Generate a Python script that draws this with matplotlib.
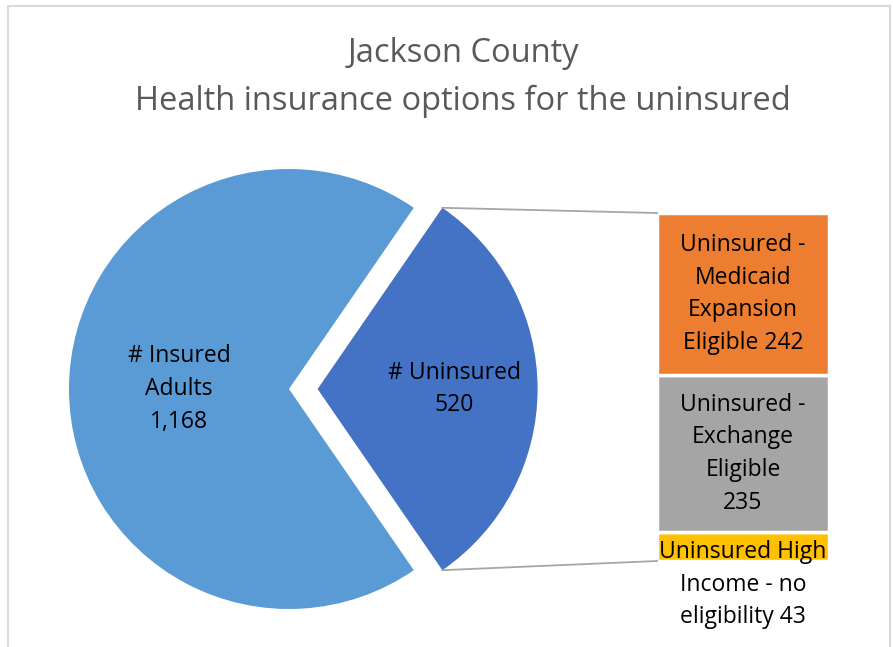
import matplotlib.pyplot as plt
import matplotlib.patches as mpatches
import numpy as np

plt.rcParams['font.family'] = ['Open Sans', 'DejaVu Sans']

# data
pie_labels = ["# Uninsured", "# Insured\nAdults"]
pie_values = [520, 1168]
bar_labels = ["Uninsured High\nIncome - no\neligibility", "Uninsured -\nExchange\nEligible\n", "Uninsured -\nMedicaid\nExpansion\nEligible"]
bar_values = [43, 235, 242]
pie_colors = ["#4472C4", "#5B9BD5"]
bar_colors = ["#FFC000", "#A5A5A5", "#ED7D31"]

W, H = 893, 647
fig = plt.figure(figsize=(W / 100, H / 100), dpi=100)
ax = fig.add_axes([0, 0, 1, 1])

FS = 16.5
LS = 1.48

# chart frame
ax.add_patch(mpatches.Rectangle((8, -20), 882, H - 6 + 20, fill=False, ec="#D9D9D9", lw=1.5))

cx, cy, R = 289, H - 389, 220
frac = pie_values[0] / sum(pie_values)
start = -frac * 360 / 2
expl = 0.13 * R
wedges, _ = ax.pie(pie_values, colors=pie_colors, startangle=start, counterclock=True,
                   explode=[expl, 0], center=(cx, cy), radius=R,
                   wedgeprops=dict(linewidth=0))

# slice labels
for w, lab, val, d in zip(wedges, pie_labels, pie_values, [0.62, 0.5]):
    mid = np.deg2rad((w.theta1 + w.theta2) / 2)
    wx, wy = w.center
    ax.text(wx + d * R * np.cos(mid), wy + d * R * np.sin(mid), f"{lab}\n{val:,}",
            ha="center", va="center", fontsize=FS, linespacing=LS, color="black")

# bar of pie
bx, bw = 743, 172
bot_y = H - 561
scale = 348 / sum(bar_values)
bottom = bot_y
tops = []
for lab, val, col in zip(bar_labels, bar_values, bar_colors):
    ax.bar(bx, val * scale, width=bw, bottom=bottom, color=col, edgecolor="white", linewidth=2.5)
    tops.append((bottom, bottom + val * scale))
    bottom += val * scale

# labels on bar segments
b0, t0 = tops[2]
ax.text(bx, (b0 + t0) / 2, f"{bar_labels[2]} {bar_values[2]}", ha="center", va="center",
        fontsize=FS, linespacing=LS)
b1, t1 = tops[1]
ax.text(bx, (b1 + t1) / 2, f"{bar_labels[1]}{bar_values[1]}", ha="center", va="center",
        fontsize=FS, linespacing=LS)
b2, t2 = tops[0]
ax.text(bx, (b2 + t2) / 2 - 38, f"{bar_labels[0]} {bar_values[0]}", ha="center", va="center",
        fontsize=FS, linespacing=LS)

# connector lines
uw = wedges[0]
ux, uy = uw.center
for th, yb in [(uw.theta2, bottom), (uw.theta1, bot_y)]:
    t = np.deg2rad(th)
    ax.plot([ux + R * np.cos(t), bx - bw / 2], [uy + R * np.sin(t), yb], color="#A6A6A6", lw=1.3)

ax.text(463, H - 53, "Jackson County", ha="center", va="center", fontsize=23.5, color="#595959")
ax.text(463, H - 101, "Health insurance options for the uninsured", ha="center", va="center",
        fontsize=23.5, color="#595959")

ax.set_xlim(0, W)
ax.set_ylim(0, H)
ax.set_aspect("equal")
ax.axis("off")
fig.savefig("out.png", dpi=100)
